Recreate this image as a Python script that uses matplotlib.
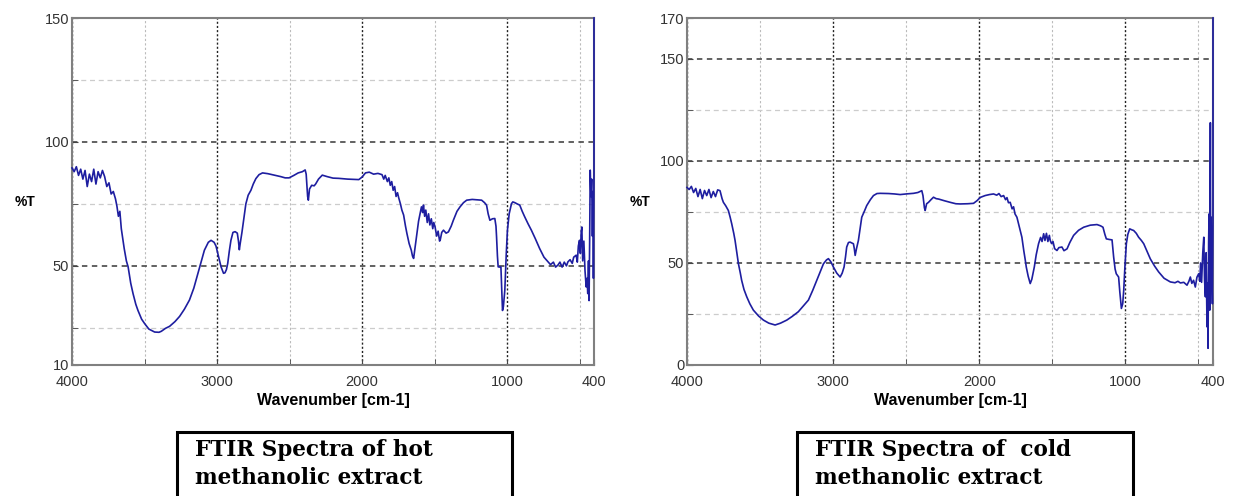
import numpy as np
from matplotlib import pyplot as plt
from matplotlib.patches import Rectangle

# hot methanolic extract (wavenumber, %T)
hot_wn = [4000, 3985, 3970, 3955, 3940, 3925, 3910, 3895, 3880, 3865, 3850, 3835, 3820, 3805,
          3790, 3775, 3760, 3745, 3730, 3715, 3700, 3690, 3680, 3670, 3660, 3650, 3640, 3625,
          3613, 3595, 3579, 3560, 3545, 3520, 3499, 3470, 3430, 3400, 3384, 3355, 3327, 3290,
          3258, 3225, 3190, 3160, 3132, 3110, 3087, 3060, 3041, 3020, 3007, 2990, 2972, 2955,
          2945, 2935, 2926, 2915, 2904, 2890, 2875, 2860, 2852, 2846, 2840, 2828, 2815, 2801,
          2785, 2766, 2750, 2732, 2710, 2686, 2650, 2620, 2595, 2560, 2530, 2503, 2470, 2440,
          2411, 2392, 2385, 2375, 2370, 2362, 2347, 2330, 2320, 2300, 2274, 2240, 2200, 2160,
          2100, 2060, 2022, 2000, 1976, 1950, 1920, 1890, 1862, 1850, 1840, 1825, 1815, 1805,
          1795, 1785, 1775, 1765, 1755, 1747, 1735, 1725, 1713, 1700, 1690, 1675, 1660, 1652,
          1644, 1635, 1621, 1610, 1599, 1590, 1582, 1576, 1568, 1560, 1550, 1541, 1532, 1522,
          1512, 1505, 1496, 1485, 1475, 1465, 1461, 1450, 1438, 1420, 1404, 1385, 1370, 1345,
          1324, 1300, 1278, 1240, 1200, 1175, 1155, 1141, 1130, 1118, 1100, 1084, 1076, 1072,
          1066, 1061, 1048, 1042, 1036, 1031, 1025, 1015, 1005, 997, 985, 969, 960, 946, 930,
          912, 895, 878, 855, 832, 805, 775, 745, 717, 700, 680, 665, 649, 635, 620, 605, 590,
          580, 565, 550, 540, 523, 515, 508, 500, 494, 488, 484, 478, 470, 462, 454, 448, 443,
          438, 434, 430, 426, 421, 416, 411, 407, 404, 402, 400, 400]
hot_t = [89.5, 88, 90, 86.5, 89, 85, 88.5, 82, 87, 84, 89, 83, 88, 85.5,
         88.5, 86, 82, 83.5, 79, 80, 77, 74, 70, 72, 65, 61, 57, 52,
         49.6, 43, 38.8, 34.5, 32, 28.5, 26.7, 24.5, 23.3, 23.2, 23.6, 24.8, 25.6, 27.5,
         29.6, 32.5, 36.2, 41, 46.9, 51.5, 56.3, 59.5, 60.3, 59.5, 58, 54, 49.6, 47,
         47.2, 48.5, 51, 56, 60.3, 63.5, 63.8, 63.2, 60, 56.5, 59, 63.5, 69, 75,
         78.5, 80.5, 83, 85.2, 86.8, 87.5, 87.2, 86.8, 86.5, 86, 85.5, 85.5, 86.5, 87.5,
         88, 88.7, 87, 78, 76.5, 81, 82.5, 82.3, 83, 85, 86.6, 86, 85.4, 85.3,
         85, 84.9, 84.8, 85.8, 87.5, 87.8, 87, 87.3, 86.8, 85, 86.5, 84, 85.5, 82.5,
         84, 80.5, 82, 78, 79.5, 77.5, 75, 72.5, 70.5, 66, 63, 59, 56.3, 54,
         53, 57, 63, 68, 71.1, 73.8, 71.5, 74.5, 70, 72.5, 67.5, 71, 66.5, 69,
         65, 67.5, 65.7, 62, 64, 60, 60.3, 63.5, 64.4, 63.2, 63.7, 66, 68.4, 72,
         73.8, 75.5, 76.5, 76.8, 76.6, 76.5, 75.5, 74.5, 71, 68.4, 69, 69.1, 66, 61.7,
         54, 49.6, 49.5, 49.6, 40, 32, 33.5, 40.2, 55, 64.4, 71, 75.1, 75.8, 75.5, 75,
         74.5, 72, 69.8, 67, 64.4, 61, 57, 53.5, 51.6, 50.5, 51.5, 49.5, 50.3, 51.5, 49.5, 51.5, 50,
         51.6, 52.5, 51, 53.5, 54.3, 51.5, 58, 60.3, 55, 64, 65.7, 52, 60, 48, 41.5, 45, 38.8,
         52, 36, 60, 88.6, 78, 85, 62, 80, 45, 70, 88, 150]

# cold methanolic extract
cold_wn = [4000, 3985, 3970, 3955, 3940, 3925, 3910, 3895, 3880, 3865, 3850, 3835, 3820, 3805,
           3790, 3774, 3760, 3751, 3735, 3717, 3705, 3694, 3680, 3671, 3660, 3648, 3635, 3626,
           3610, 3591, 3570, 3546, 3510, 3477, 3440, 3397, 3360, 3317, 3280, 3238, 3205, 3169,
           3140, 3112, 3090, 3066, 3045, 3032, 3015, 2998, 2975, 2952, 2938, 2925, 2915, 2907,
           2895, 2884, 2861, 2855, 2849, 2840, 2827, 2815, 2804, 2785, 2770, 2745, 2724, 2700,
           2678, 2620, 2580, 2541, 2500, 2450, 2420, 2393, 2385, 2375, 2370, 2360, 2347, 2330,
           2313, 2295, 2278, 2240, 2199, 2160, 2130, 2080, 2039, 2015, 1993, 1960, 1930, 1902,
           1880, 1865, 1850, 1833, 1820, 1810, 1800, 1788, 1775, 1765, 1755, 1742, 1725, 1708,
           1695, 1685, 1678, 1665, 1651, 1640, 1630, 1623, 1610, 1594, 1580, 1570, 1559, 1550,
           1540, 1530, 1520, 1514, 1505, 1495, 1484, 1468, 1455, 1434, 1420, 1399, 1380, 1354,
           1320, 1285, 1240, 1194, 1170, 1153, 1140, 1130, 1110, 1091, 1085, 1080, 1070, 1062,
           1046, 1038, 1027, 1018, 1011, 1003, 993, 983, 970, 955, 943, 925, 909, 890, 874,
           850, 829, 800, 772, 735, 700, 692, 660, 640, 623, 600, 578, 565, 555, 545, 533,
           521, 510, 498, 490, 485, 478, 470, 463, 458, 452, 447, 441, 437, 434, 430, 427,
           424, 422, 420, 418, 416, 413, 408, 404, 401, 400, 400]
cold_t = [87, 86, 87.5, 84.5, 86.5, 82.5, 86, 81.5, 85.5, 83, 86, 82, 85, 82.5,
          85.8, 85.4, 81.5, 79.7, 78, 75.7, 72.5, 69.2, 64.5, 61, 55.5, 49.6, 45, 41.5,
          37, 33.4, 30, 26.9, 24, 22, 20.5, 19.6, 20.5, 22, 23.8, 26.1, 28.8, 31.8,
          36.5, 41.5, 45.5, 49.6, 51.5, 52.1, 50.5, 48, 45, 43.1, 45, 48, 53, 57.8,
          60, 60.2, 59.4, 57, 53.7, 57, 61, 67, 72.4, 75.5, 78.1, 81, 83, 84,
          84.1, 84, 83.8, 83.5, 83.8, 84.1, 84.5, 85.4, 83, 77, 75.7, 79, 79.7, 81,
          82.2, 81.5, 81.3, 80.5, 79.7, 79, 78.9, 79, 79.2, 80.5, 82.1, 83, 83.5, 83.8,
          83.2, 84, 82.5, 83, 81, 82, 79.5, 79.7, 76.5, 77.5, 74, 72.4, 67.5, 62.6,
          56, 51.5, 48, 43.5, 39.9, 42, 45.5, 48, 54, 59.4, 62.5, 60.5, 64.3, 61,
          64.5, 60.5, 63.5, 61, 59.5, 60.5, 57, 56.1, 57.5, 57.8, 56, 56.9, 60, 63.5,
          66, 67.5, 68.5, 68.8, 68.2, 67.5, 64, 61.8, 61.5, 61.3, 57, 52.9, 47, 44.7,
          43.1, 36, 27.7, 30, 36.6, 48, 59.4, 64, 66.7, 66.2, 65.9, 64.5, 62.6, 61, 59.4,
          55.5, 52, 48.5, 45.6, 42.5, 41, 40.7, 40.3, 41, 40.2, 40.5, 39.1, 41, 43.1, 40, 41.5,
          38.2, 43, 44.7, 41, 50, 40.5, 55, 62.6, 42, 33.4, 55, 18.7, 40, 8.2, 60, 74,
          40, 26.9, 70, 118.7, 50, 72.4, 45, 30, 60, 75, 170]

panels = [
    dict(wn=hot_wn, t=hot_t, ylim=(10, 150), yticks=[10, 50, 100, 150],
         left=72, width=522, title='FTIR Spectra of hot\nmethanolic extract', box=(177, 512)),
    dict(wn=cold_wn, t=cold_t, ylim=(0, 170), yticks=[0, 50, 100, 150, 170],
         left=687, width=526, title='FTIR Spectra of  cold\nmethanolic extract', box=(797, 1133)),
]

W, H = 1235, 496
fig = plt.figure(figsize=(W / 100, H / 100), dpi=100)
plt.rcParams['font.family'] = 'Liberation Sans'

for p in panels:
    ax = fig.add_axes([p['left'] / W, 1 - 365 / H, p['width'] / W, 347 / H])
    # last point sits on the right spine, so draw above it and don't clip
    ax.plot(p['wn'], p['t'], color='#1e1ea0', lw=1.2, zorder=3, clip_on=False)
    ax.set_xlim(4000, 400)
    ax.set_ylim(*p['ylim'])
    ax.set_xticks([4000, 3000, 2000, 1000, 400])
    ax.set_xticks([3500, 2500, 1500, 500], minor=True)
    ax.set_yticks(p['yticks'])
    ax.set_yticks([25, 75, 125], minor=True)
    # grid: dark dotted for main lines, light dashes for the rest
    ax.xaxis.grid(True, which='major', color='#222222', linestyle=(0, (1.5, 1.5)), lw=1.0)
    ax.xaxis.grid(True, which='minor', color='#bbbbbb', linestyle=(0, (2, 2)), lw=0.8)
    ax.yaxis.grid(True, which='major', color='#555555', linestyle=(0, (3, 2.5)), lw=1.3)
    ax.yaxis.grid(True, which='minor', color='#cccccc', linestyle=(0, (4, 3)), lw=0.9)
    ax.set_axisbelow(True)
    for s in ax.spines.values():
        s.set_color('#808080')
        s.set_linewidth(1.5)
    ax.tick_params(which='both', direction='in', length=4, labelsize=10.5,
                   labelcolor='#333333', color='#444444', top=False, right=False)
    ax.tick_params(axis='x', pad=7)
    ax.tick_params(axis='y', pad=2)
    ax.set_xlabel('Wavenumber [cm-1]', fontsize=11.5, fontweight='bold', labelpad=3)
    ax.set_ylabel('%T', fontsize=10, fontweight='bold', rotation=0)
    ax.yaxis.set_label_coords(-0.09, 0.45)

    # caption box under the plot
    x0, x1 = p['box']
    fig.patches.append(Rectangle((x0 / W, -0.02), (x1 - x0) / W, (1 - 432 / H) + 0.02,
                                 transform=fig.transFigure, fill=False,
                                 edgecolor='black', lw=2.2))
    fig.text((x0 + 18) / W, 1 - 464 / H, p['title'], fontsize=15.5, fontweight='bold',
             family='DejaVu Serif', va='center', ha='left', linespacing=1.3)

plt.savefig('out.png', dpi=100)
